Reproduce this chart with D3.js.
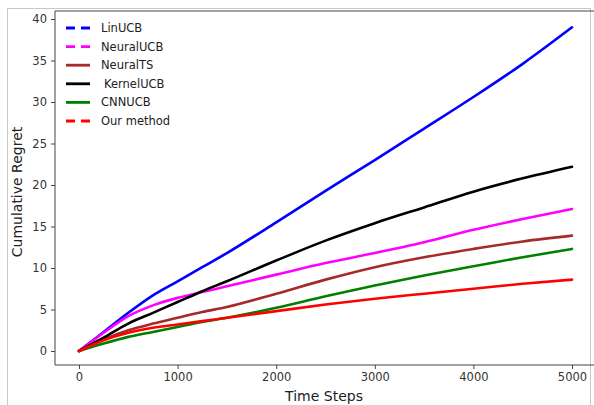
<!DOCTYPE html>
<html><head><meta charset="utf-8">
<script src="https://cdn.jsdelivr.net/npm/d3@7"></script>
<style>body{margin:0;background:#fff}svg{display:block}text{font-family:"DejaVu Sans",sans-serif}</style>
</head><body>
<script>
const steps = [0,250,500,750,1000,1250,1500,2000,2500,3000,3500,4000,4500,5000];
const linUCB    = [0,2.3,4.6,6.7,8.4,10.1,11.8,15.5,19.3,23.0,26.8,30.6,34.6,39.0];
const neuralUCB = [0,2.2,4.2,5.5,6.4,7.1,7.8,9.2,10.6,11.8,13.1,14.6,15.9,17.1];
const neuralTS  = [0,1.4,2.5,3.3,4.0,4.7,5.3,6.9,8.6,10.1,11.3,12.3,13.2,13.9];
const kernelUCB = [0,1.6,3.3,4.6,5.9,7.2,8.4,10.9,13.3,15.4,17.3,19.2,20.8,22.2];
const cnnUCB    = [0,0.9,1.7,2.3,2.9,3.5,4.0,5.2,6.6,7.9,9.1,10.2,11.3,12.3];
const ourMethod = [0,1.3,2.2,2.8,3.2,3.6,4.0,4.8,5.6,6.3,6.9,7.5,8.1,8.6];
const seriesNames = ["LinUCB","NeuralUCB","NeuralTS","KernelUCB","CNNUCB","Our method"];
const xTicks = [0,1000,2000,3000,4000,5000];
const yTicks = [0,5,10,15,20,25,30,35,40];

const series = [
  {name:seriesNames[0], values:linUCB,    color:"#0000ff", dashed:true},
  {name:seriesNames[1], values:neuralUCB, color:"#ff00ff", dashed:true},
  {name:seriesNames[2], values:neuralTS,  color:"#a52a2a", dashed:false},
  {name:seriesNames[3], values:kernelUCB, color:"#000000", dashed:false},
  {name:seriesNames[4], values:cnnUCB,    color:"#008000", dashed:false},
  {name:seriesNames[5], values:ourMethod, color:"#ff0000", dashed:true}
];
const W=594,H=405;
const svg=d3.select("body").append("svg").attr("width",W).attr("height",H);
svg.append("rect").attr("x",7.5).attr("y",8.5).attr("width",583).attr("height",420)
  .attr("fill","none").attr("stroke","#c8c8c8").attr("stroke-width",1);

const x=d3.scaleLinear().domain([0,5000]).range([79,572]);
const y=d3.scaleLinear().domain([0,40]).range([351,19]);
const pL=55,pB=365,pT=11,pR=600;

svg.append("path").attr("d",`M${pL},${pT}H${pR}M${pL},${pT}V${pB}H${pR}`)
  .attr("fill","none").attr("stroke","#444").attr("stroke-width",1);

const xAxis=svg.append("g").attr("transform",`translate(0,${pB})`)
  .call(d3.axisBottom(x).tickValues(xTicks).tickSize(4).tickPadding(4).tickFormat(d3.format("d")));
const yAxis=svg.append("g").attr("transform",`translate(${pL},0)`)
  .call(d3.axisLeft(y).tickValues(yTicks).tickSize(4).tickPadding(4).tickFormat(d3.format("d")));
[xAxis,yAxis].forEach(a=>{
  a.select(".domain").remove();
  a.selectAll("line").attr("stroke","#444");
  a.selectAll("text").attr("fill","#333").style("font-size","11.5px").style("font-family","DejaVu Sans");
});

const line=d3.line().x((d,i)=>x(steps[i])).y(d=>y(d)).curve(d3.curveMonotoneX);
series.forEach(s=>{
  svg.append("path").datum(s.values).attr("d",line)
    .attr("fill","none").attr("stroke",s.color).attr("stroke-width",2.6)
    .attr("stroke-linecap","round").attr("stroke-linejoin","round");
});

const lg=svg.append("g");
series.forEach((s,i)=>{
  const yy=28+i*18.6;
  lg.append("line").attr("x1",66).attr("x2",90).attr("y1",yy).attr("y2",yy)
    .attr("stroke",s.color).attr("stroke-width",2.8)
    .attr("stroke-dasharray",s.dashed?"9,6":null);
  lg.append("text").attr("x",i===3?104:101).attr("y",yy).attr("dy","0.35em")
    .style("font-size","11.5px").attr("fill","#222").text(s.name);
});

svg.append("text").attr("x",324).attr("y",401).attr("text-anchor","middle")
  .style("font-size","14px").attr("fill","#222").text("Time Steps");
svg.append("text").attr("transform","translate(22,192) rotate(-90)").attr("text-anchor","middle")
  .style("font-size","14px").attr("fill","#222").text("Cumulative Regret");
</script>
</body></html>
